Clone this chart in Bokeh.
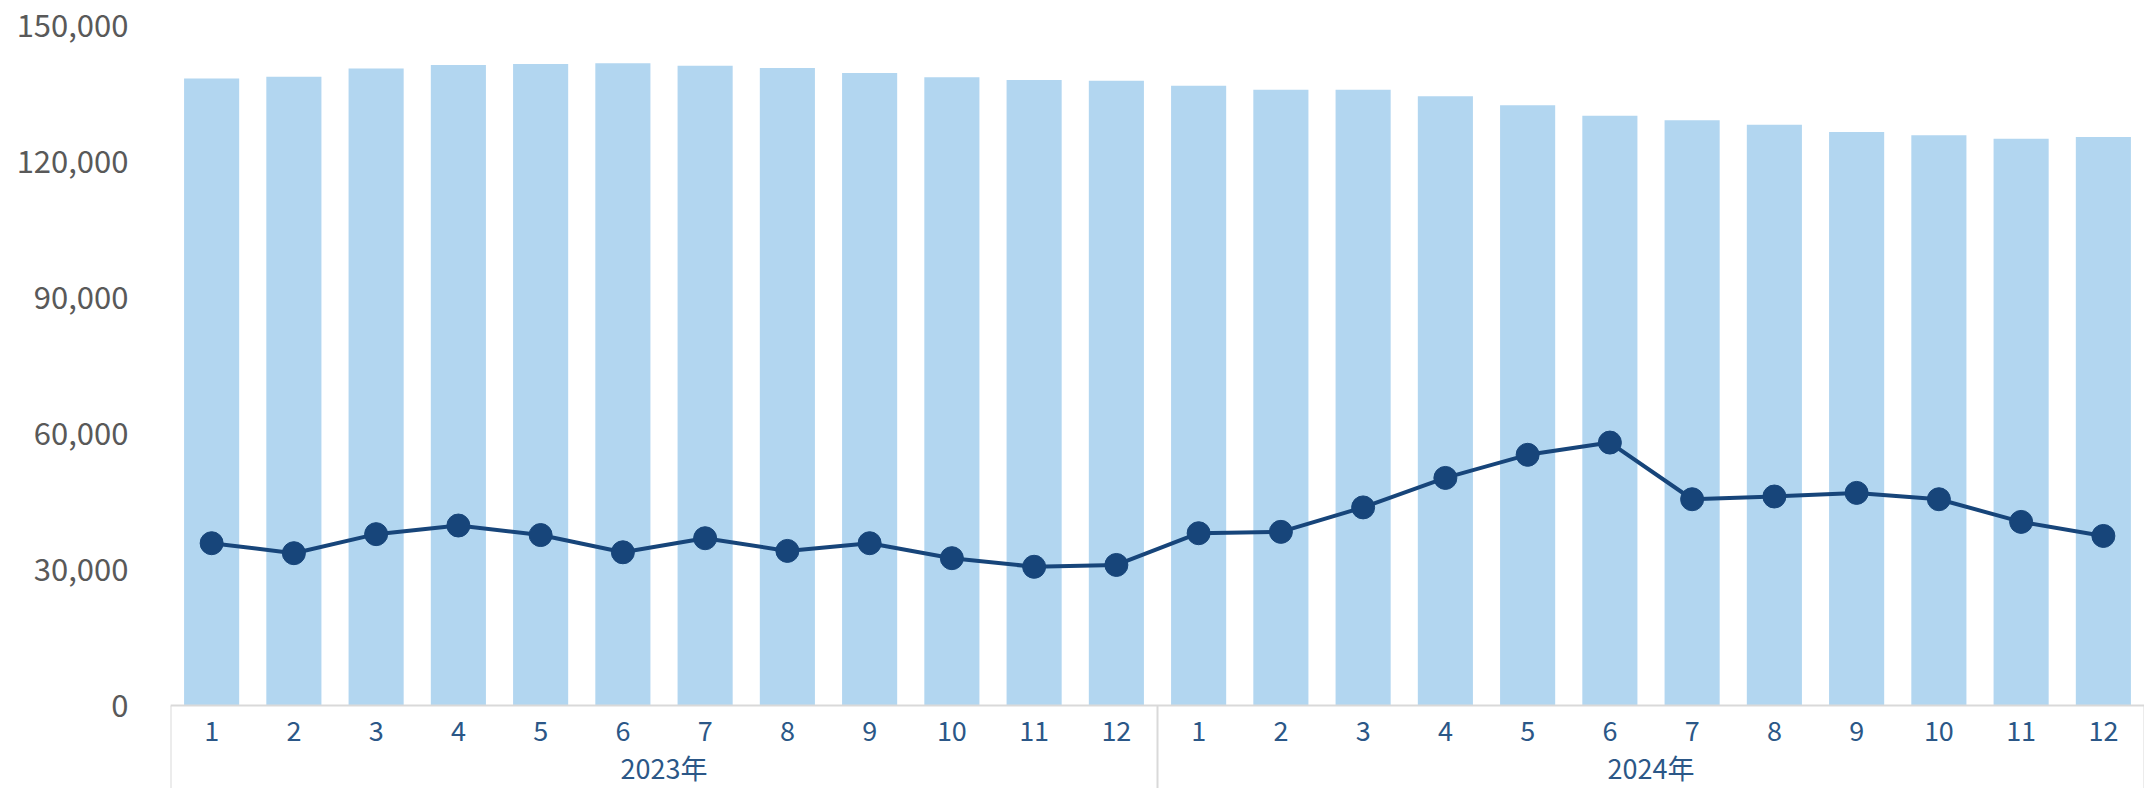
from bokeh.plotting import figure
from bokeh.models import FixedTicker, NumeralTickFormatter, ColumnDataSource, Span
from bokeh.core.properties import value
from bokeh.embed import file_html
from bokeh.resources import INLINE

# ---- data ----
month_labels = ["1", "2", "3", "4", "5", "6", "7", "8", "9", "10", "11", "12",
                "1", "2", "3", "4", "5", "6", "7", "8", "9", "10", "11", "12"]
year_labels = ["2023年", "2024年"]
bar_values = [138300, 138700, 140500, 141300, 141500, 141700,
              141100, 140600, 139500, 138600, 138000, 137800,
              136700, 135800, 135800, 134400, 132400, 130100,
              129100, 128100, 126500, 125800, 125000, 125400]
line_values = [35800, 33600, 37800, 39700, 37600, 33800,
               36900, 34100, 35800, 32500, 30600, 31000,
               38000, 38300, 43700, 50200, 55300, 58000,
               45500, 46100, 46900, 45500, 40500, 37400]
y_ticks = [0, 30000, 60000, 90000, 120000, 150000]

x = list(range(1, len(month_labels) + 1))
src = ColumnDataSource(dict(x=x, bar=bar_values, line=line_values))

FONT = "Noto Sans CJK JP"
BAR_COLOR = "#B2D6F0"
LINE_COLOR = "#17457A"
LABEL_BLUE = "#2B5787"
GRAY = "#595959"
AXIS_GRAY = "#D9D9D9"

# layout: plot area 680 px for 0..150000, category band of 83 px below it
Y_MAX = 150000
PX_PER_UNIT = 680 / Y_MAX
BAND_PX = 83
y_min = -BAND_PX / PX_PER_UNIT
month_y = -25 / PX_PER_UNIT
year_y = -62 / PX_PER_UNIT

p = figure(frame_width=1974, frame_height=680 + BAND_PX,
           x_range=(0.5, len(x) + 0.5), y_range=(y_min, Y_MAX),
           toolbar_location=None, output_backend="svg",
           min_border_left=170, min_border_right=0,
           min_border_top=25, min_border_bottom=0)
p.outline_line_color = None
p.grid.grid_line_color = None
p.background_fill_color = "white"
p.border_fill_color = "white"
p.xaxis.visible = False

p.vbar(x="x", top="bar", width=0.67, source=src,
       fill_color=BAR_COLOR, line_color=None)

# category axis: base line, group separators, labels
p.add_layout(Span(location=0, dimension="width", line_color=AXIS_GRAY, line_width=2))
n_per_year = 12
separators = [0.5 + k * n_per_year for k in range(len(year_labels) + 1)]
p.segment(x0=separators, y0=[0] * len(separators),
          x1=separators, y1=[y_min] * len(separators),
          line_color=AXIS_GRAY, line_width=2)
p.text(x=x, y=[month_y] * len(x), text=month_labels,
       text_align="center", text_baseline="middle",
       text_font=value(FONT), text_font_size=value("27px"),
       text_color=LABEL_BLUE)
year_x = [(separators[k] + separators[k + 1]) / 2 for k in range(len(year_labels))]
p.text(x=year_x, y=[year_y] * len(year_x), text=year_labels,
       text_align="center", text_baseline="middle",
       text_font=value(FONT), text_font_size=value("27px"),
       text_color=LABEL_BLUE)

p.line(x="x", y="line", source=src, line_color=LINE_COLOR, line_width=4)
p.scatter(x="x", y="line", source=src, size=23,
          fill_color=LINE_COLOR, line_color=LINE_COLOR)

# y axis
ya = p.yaxis[0]
ya.ticker = FixedTicker(ticks=y_ticks)
ya.formatter = NumeralTickFormatter(format="0,0")
ya.axis_line_color = None
ya.major_tick_line_color = None
ya.minor_tick_line_color = None
ya.major_label_standoff = 36
ya.major_label_text_font = FONT
ya.major_label_text_font_size = "31px"
ya.major_label_text_color = GRAY

open("out.html", "w").write(file_html(p, INLINE))
